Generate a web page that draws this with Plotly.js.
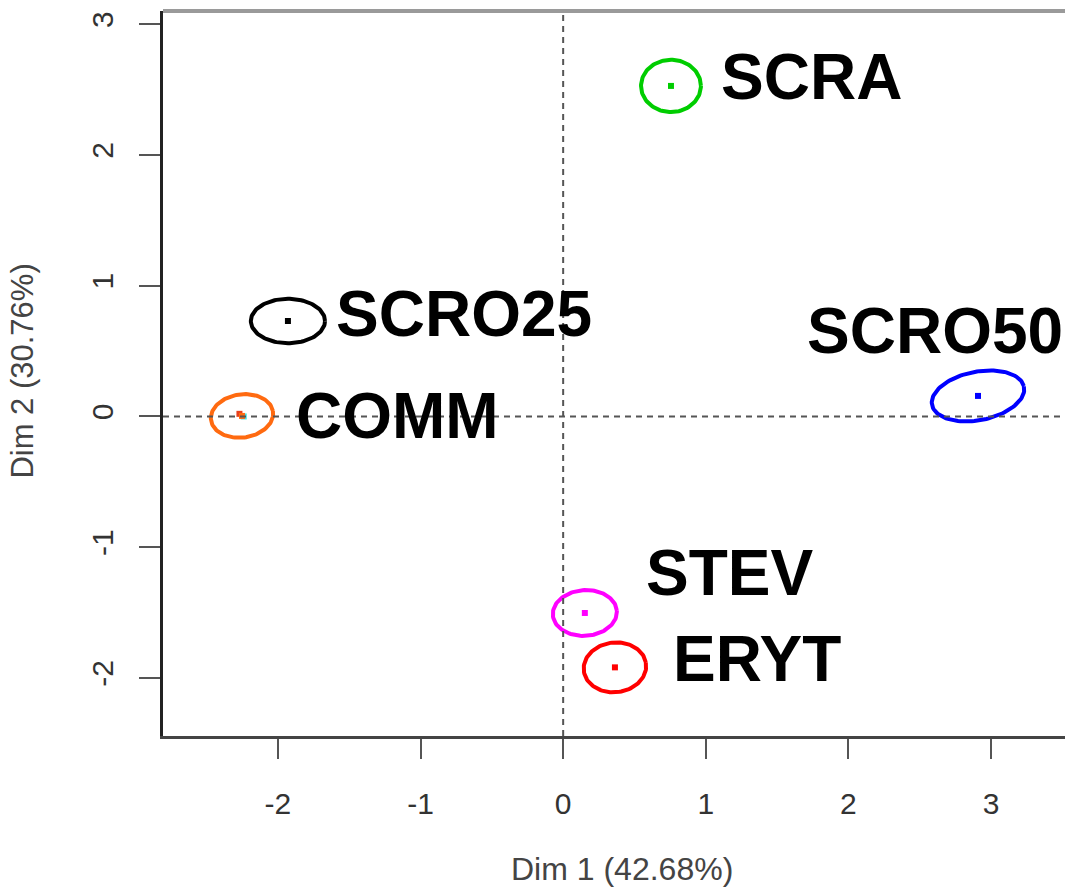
<!DOCTYPE html>
<html>
<head>
<meta charset="utf-8">
<script src="https://cdn.plot.ly/plotly-3.0.1.min.js"></script>
<style>html,body{margin:0;padding:0;background:#fff;}#chart{width:1065px;height:887px;}</style>
</head>
<body>
<div id="chart"></div>
<script>
// Groups (confidence ellipses)
var groups   = ["SCRA", "SCRO25", "COMM", "SCRO50", "STEV", "ERYT"];
var centerX  = [0.756, -1.930, -2.252, 2.909, 0.152, 0.363];
var centerY  = [2.528, 0.730, 0.004, 0.157, -1.503, -1.919];
var semiA    = [0.21, 0.26, 0.22, 0.33, 0.225, 0.22];
var semiB    = [0.20, 0.17, 0.165, 0.185, 0.175, 0.19];
var tiltDeg  = [0, 0, 10, 13, 5, 10];
var colors   = ["#00cd00", "#000000", "#ff6a10", "#0000ff", "#ff00ff", "#ff0000"];
// Label anchor (left edge, middle) positions
var labelX   = [1.095, -1.604, 1.696, -1.887, 0.565, 0.756];
var labelY   = [2.60, 0.786, 0.656, 0.0, -1.198, -1.855];
var labelTxt = ["SCRA", "SCRO25", "SCRO50", "COMM", "STEV", "ERYT"];
// Extra overlapping individual points near COMM
var extraX = [-2.27, -2.24];
var extraY = [0.02, 0.0];
var extraC = ["#e8401c", "#40e0e0"];

var xTicks = [-2, -1, 0, 1, 2, 3];
var yTicks = [-2, -1, 0, 1, 2, 3];
var xTitle = "Dim 1 (42.68%)";
var yTitle = "Dim 2 (30.76%)";

var traces = [];
for (var g = 0; g < groups.length; g++) {
  var ex = [], ey = [];
  var th = tiltDeg[g] * Math.PI / 180;
  for (var k = 0; k <= 120; k++) {
    var t = 2 * Math.PI * k / 120;
    ex.push(centerX[g] + semiA[g] * Math.cos(t) * Math.cos(th) - semiB[g] * Math.sin(t) * Math.sin(th));
    ey.push(centerY[g] + semiA[g] * Math.cos(t) * Math.sin(th) + semiB[g] * Math.sin(t) * Math.cos(th));
  }
  traces.push({x: ex, y: ey, mode: "lines", line: {color: colors[g], width: 4}, hoverinfo: "skip", showlegend: false});
}
traces.push({x: extraX, y: extraY, mode: "markers", marker: {color: extraC, size: 6, symbol: "square"}, showlegend: false});
traces.push({x: centerX, y: centerY, mode: "markers", marker: {color: colors, size: 6, symbol: "square"}, showlegend: false, text: groups});

var annotations = [];
for (var i = 0; i < labelTxt.length; i++) {
  annotations.push({x: labelX[i], y: labelY[i], xref: "x", yref: "y", text: labelTxt[i], showarrow: false,
    xanchor: "left", yanchor: "middle",
    font: {family: "Liberation Sans, Arial, sans-serif", size: 64, color: "#000", weight: "bold"}});
}
annotations.push({x: 0.509, y: -0.183, xref: "paper", yref: "paper", text: xTitle, showarrow: false,
  xanchor: "center", yanchor: "middle", font: {family: "Liberation Sans, Arial, sans-serif", size: 32, color: "#444"}});
annotations.push({x: -0.156, y: 0.503, xref: "paper", yref: "paper", text: yTitle, showarrow: false, textangle: -90,
  xanchor: "center", yanchor: "middle", font: {family: "Liberation Sans, Arial, sans-serif", size: 31, color: "#444"}});

var layout = {
  width: 1065, height: 887,
  margin: {l: 163, r: 0, t: 11, b: 151, pad: 0},
  paper_bgcolor: "#fff", plot_bgcolor: "#fff",
  showlegend: false,
  xaxis: {range: [-2.806, 3.519], tickvals: xTicks, ticktext: xTicks.map(String), ticks: "outside", ticklen: 20, tickwidth: 2, tickcolor: "#555",
    showgrid: false, zeroline: false, showline: true, linecolor: "#444", linewidth: 3,
    tickfont: {family: "Liberation Sans, Arial, sans-serif", size: 30, color: "#333"}, ticklabelstandoff: 19},
  yaxis: {range: [-2.444, 3.101], tickvals: yTicks, ticktext: yTicks.map(String), ticks: "outside", ticklen: 21, tickwidth: 2, tickcolor: "#555",
    showgrid: false, zeroline: false, showline: true, linecolor: "#222", linewidth: 3, tickangle: -90,
    tickfont: {family: "Liberation Sans, Arial, sans-serif", size: 30, color: "#333"}, ticklabelstandoff: 14},
  shapes: [
    {type: "line", xref: "x", yref: "paper", x0: 0, x1: 0, y0: 0, y1: 1, line: {color: "#555", width: 2, dash: "6px,5px"}},
    {type: "line", xref: "paper", yref: "y", x0: 0, x1: 1, y0: 0, y1: 0, line: {color: "#555", width: 2, dash: "6px,5px"}},
    {type: "line", xref: "paper", yref: "paper", x0: 0, x1: 1, y0: 1, y1: 1, line: {color: "#9a9a9a", width: 4}}
  ],
  annotations: annotations
};

Plotly.newPlot("chart", traces, layout, {displayModeBar: false, staticPlot: true});
</script>
</body>
</html>
